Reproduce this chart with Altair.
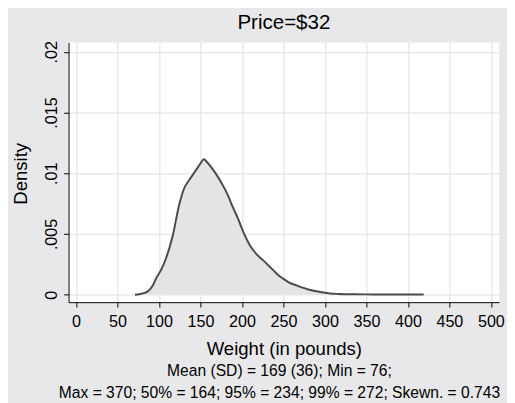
import altair as alt
import pandas as pd

# Kernel density estimate (weight in pounds, density)
weights = [71, 80, 86, 92, 97, 103, 109, 116.7, 124, 130, 137, 144, 150, 154, 158,
           164, 171, 177, 183, 189, 195, 202, 210, 218, 226, 232, 238, 244, 250,
           257, 265, 272, 280, 288, 296, 306, 316, 335, 360, 390, 419]
density = [0, 0.0001, 0.00025, 0.0007, 0.0014, 0.0021, 0.0031, 0.0049, 0.0073, 0.0087,
           0.0095, 0.0102, 0.0108, 0.01115, 0.0109, 0.0104, 0.0097, 0.0090, 0.0082,
           0.0072, 0.0063, 0.0051, 0.0040, 0.0033, 0.0028, 0.0024, 0.0020, 0.0016,
           0.0013, 0.0010, 0.00078, 0.0006, 0.00043, 0.0003, 0.0002, 0.0001, 0.00006,
           0.00003, 0.00002, 0.00001, 0.00001]

x_ticks = [0, 50, 100, 150, 200, 250, 300, 350, 400, 450, 500]
y_ticks = [0, 0.005, 0.01, 0.015, 0.02]

title_text = "Price=$32"
x_title = "Weight (in pounds)"
y_title = "Density"
note_lines = ["Mean (SD) = 169 (36); Min = 76;",
              "Max = 370; 50% = 164; 95% = 234; 99% = 272; Skewn. = 0.743"]

FONT = "Liberation Sans"
BG = "#e8e8ea"

df = pd.DataFrame({"weight": weights, "density": density})

xscale = alt.Scale(domain=[-9, 510], nice=False, zero=False)
yscale = alt.Scale(domain=[-0.00062, 0.02077], nice=False, zero=False)

xaxis = alt.Axis(values=x_ticks, title=x_title, labelFontSize=16.5, labelFont=FONT,
                 titleFont=FONT, titleFontSize=19, titleFontWeight="normal",
                 titleColor="black", labelColor="black", tickColor="black",
                 domainColor="black", tickSize=5, labelPadding=7,
                 titleY=54, titleBaseline="alphabetic",
                 grid=True, gridColor="#e6e6e6", gridWidth=1.3, labelFlush=False)
yaxis = alt.Axis(values=y_ticks, title=y_title, labelFontSize=16.5, labelFont=FONT,
                 titleFont=FONT, titleFontSize=19, titleFontWeight="normal",
                 titleColor="black", labelColor="black", tickColor="black",
                 domainColor="black", tickSize=5, labelPadding=12,
                 labelAngle=270, labelAlign="center", labelBaseline="middle",
                 labelExpr="datum.value == 0 ? '0' : slice(format(datum.value, '~g'), 1)",
                 titleX=-49, titleY=134, titleAngle=270, titleAlign="center",
                 titleBaseline="middle",
                 grid=True, gridColor="#e6e6e6", gridWidth=1.3, labelFlush=False)

base = alt.Chart(df)
area = base.mark_area(color="#e4e4e7", opacity=1, interpolate="monotone").encode(
    x=alt.X("weight:Q", scale=xscale, axis=xaxis),
    y=alt.Y("density:Q", scale=yscale, axis=yaxis),
)
line = base.mark_line(color="#4a4a4a", strokeWidth=2, interpolate="monotone").encode(
    x=alt.X("weight:Q", scale=xscale),
    y=alt.Y("density:Q", scale=yscale),
)
notes = alt.Chart(pd.DataFrame({"k": [0]})).mark_text(
    font=FONT, fontSize=16, color="black", align="center", baseline="alphabetic",
    lineHeight=22
).encode(
    x=alt.value(216), y=alt.value(342), text=alt.value(note_lines)
)

chart = alt.layer(area, line, notes).properties(
    width=441, height=266,
    background=BG,
    padding={"left": 62, "top": 30.5, "right": 8, "bottom": 100},
    autosize=alt.AutoSizeParams(type="none"),
    title=alt.TitleParams(title_text, font=FONT, fontSize=21, fontWeight="normal",
                          color="black", anchor="middle", frame="group", offset=8),
).configure_view(strokeWidth=0, fill="white")

chart.save("out.html", embed_options={"renderer": "svg", "actions": False})
